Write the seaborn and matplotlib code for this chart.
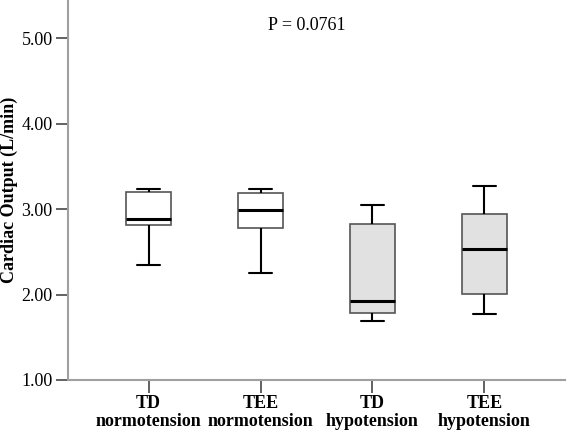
import numpy as np
import pandas as pd
import matplotlib
matplotlib.use('Agg')
import matplotlib.pyplot as plt
import seaborn as sns

# five-number summaries: low whisker, Q1, median, Q3, high whisker
groups = ['TD\nnormotension', 'TEE\nnormotension', 'TD\nhypotension', 'TEE\nhypotension']
td_normo = [2.35, 2.81, 2.885, 3.205, 3.236]
tee_normo = [2.256, 2.78, 2.987, 3.19, 3.236]
td_hypo = [1.69, 1.79, 1.92, 2.827, 3.05]
tee_hypo = [1.77, 2.01, 2.537, 2.947, 3.27]
box_colors = ['white', 'white', '#e1e1e1', '#e1e1e1']
yticks = [1.0, 2.0, 3.0, 4.0, 5.0]
p_text = 'P = 0.0761'

rows = []
for g, vals in zip(groups, [td_normo, tee_normo, td_hypo, tee_hypo]):
    for v in vals:
        rows.append({'group': g, 'co': v})
df = pd.DataFrame(rows)

sns.set_style('white')
plt.rcParams['font.family'] = ['Liberation Serif', 'DejaVu Serif']
plt.rcParams['text.color'] = 'black'
plt.rcParams['axes.labelcolor'] = 'black'
plt.rcParams['xtick.labelcolor'] = 'black'
plt.rcParams['ytick.labelcolor'] = 'black'

fig = plt.figure(figsize=(5.67, 4.30), dpi=100)
ax = fig.add_axes([68 / 567, 50 / 430, 497 / 567, 380 / 430])

sns.boxplot(data=df, x='group', y='co', hue='group', order=groups,
            palette=dict(zip(groups, box_colors)), legend=False,
            width=0.4, whis=np.inf, linewidth=1.2, linecolor='#444444',
            boxprops=dict(edgecolor='#555555', linewidth=1.2),
            whiskerprops=dict(color='black', linewidth=1.5),
            capprops=dict(color='black', linewidth=1.5),
            medianprops=dict(color='black', linewidth=2.2),
            ax=ax)

ax.set_xlim(-0.72, 3.72)
ax.set_ylim(1.0, 5.45)
ax.set_yticks(yticks)
ax.set_yticklabels(['%.2f' % t for t in yticks], fontsize=13)
ax.set_xticks(range(len(groups)))
ax.set_xticklabels(groups, fontsize=13, fontweight='bold', linespacing=1.05)
ax.set_xlabel('')
ax.set_ylabel('Cardiac Output (L/min)', fontsize=13, fontweight='bold')
ax.yaxis.set_label_coords(-0.101, 0.5)

for s in ['top', 'right']:
    ax.spines[s].set_visible(False)
for s in ['left', 'bottom']:
    ax.spines[s].set_color('#a0a0a0')
    ax.spines[s].set_linewidth(1.5)
ax.tick_params(axis='both', direction='out', length=9, width=1.3, color='#555555',
               left=True, bottom=True, pad=2)

ax.text(1.41, 5.157, p_text, ha='center', va='center', fontsize=13)

fig.savefig('out.png', dpi=100)
